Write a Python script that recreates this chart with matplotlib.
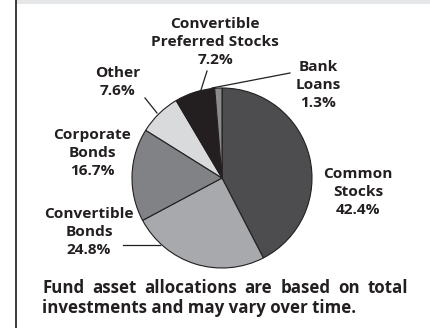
import matplotlib
matplotlib.use("Agg")
import matplotlib.pyplot as plt

# allocation data (clockwise from 12 o'clock)
categories = ["Common Stocks", "Convertible Bonds", "Corporate Bonds",
              "Other", "Convertible Preferred Stocks", "Bank Loans"]
shares = [42.4, 24.8, 16.7, 7.6, 7.2, 1.3]
colors = ["#4d4d4f", "#a7a9ac", "#808285", "#d9dadb", "#231f20", "#8a8b8d"]
note_lines = ["Fund asset allocations are based on total",
              "investments and may vary over time."]

plt.rcParams['font.family'] = ['Open Sans', 'DejaVu Sans']

W, H = 430, 328
fig = plt.figure(figsize=(W / 100, H / 100), dpi=100)
ax = fig.add_axes([0, 0, 1, 1])

# top band and left rule
ax.add_patch(plt.Rectangle((16, 0), W - 16, 4, color="#e6e7e8", lw=0))
ax.plot([15.5, 15.5], [0, H], color="#3a3a3a", lw=1.4, solid_capstyle='butt')

# pie: y axis is inverted, so counterclock=True draws clockwise on screen
cx, cy, r = 222, 178, 90
ax.pie(shares, colors=colors, startangle=-90, counterclock=True,
       center=(cx, cy), radius=r, frame=True,
       wedgeprops=dict(edgecolor="#231f20", linewidth=0.8))
ax.set_xlim(0, W)
ax.set_ylim(H, 0)
ax.set_aspect('equal')
ax.axis('off')

def pct(v):
    return f"{v:.1f}%"

lab = dict(fontsize=11.1, fontweight='bold', color="#231f20",
           ha='center', va='center', linespacing=1.32)

ax.text(215, 42, "Convertible\nPreferred Stocks\n" + pct(shares[4]), **lab)
ax.text(318, 85, "Bank\nLoans\n" + pct(shares[5]), **lab)
ax.text(118, 82, "Other\n" + pct(shares[3]), **lab)
ax.text(92, 153, "Corporate\nBonds\n" + pct(shares[2]), **lab)
ax.text(358, 192, "Common\nStocks\n" + pct(shares[0]), **lab)
ax.text(89, 232, "Convertible\nBonds\n" + pct(shares[1]), **lab)

# leader lines
lk = dict(color="#231f20", lw=0.9)
ax.plot([207, 201], [71, 90], **lk)
ax.plot([212, 290], [88, 73], **lk)
ax.plot([145, 157], [98, 113], **lk)
ax.plot([123, 160], [245, 245], **lk)

# footnote, first line justified between x0 and x1
ft = dict(fontsize=12.2, fontweight='bold', color="#231f20", ha='left', va='center')
x0, x1 = 42, 408
renderer = fig.canvas.get_renderer()
words = note_lines[0].split()
objs = [ax.text(0, 288, w, **ft) for w in words]
widths = [o.get_window_extent(renderer).width for o in objs]
gap = (x1 - x0 - sum(widths)) / (len(words) - 1)
x = x0
for o, w in zip(objs, widths):
    o.set_x(x)
    x += w + gap
ax.text(x0, 308, note_lines[1], **ft)

fig.savefig("out.png", dpi=100)
